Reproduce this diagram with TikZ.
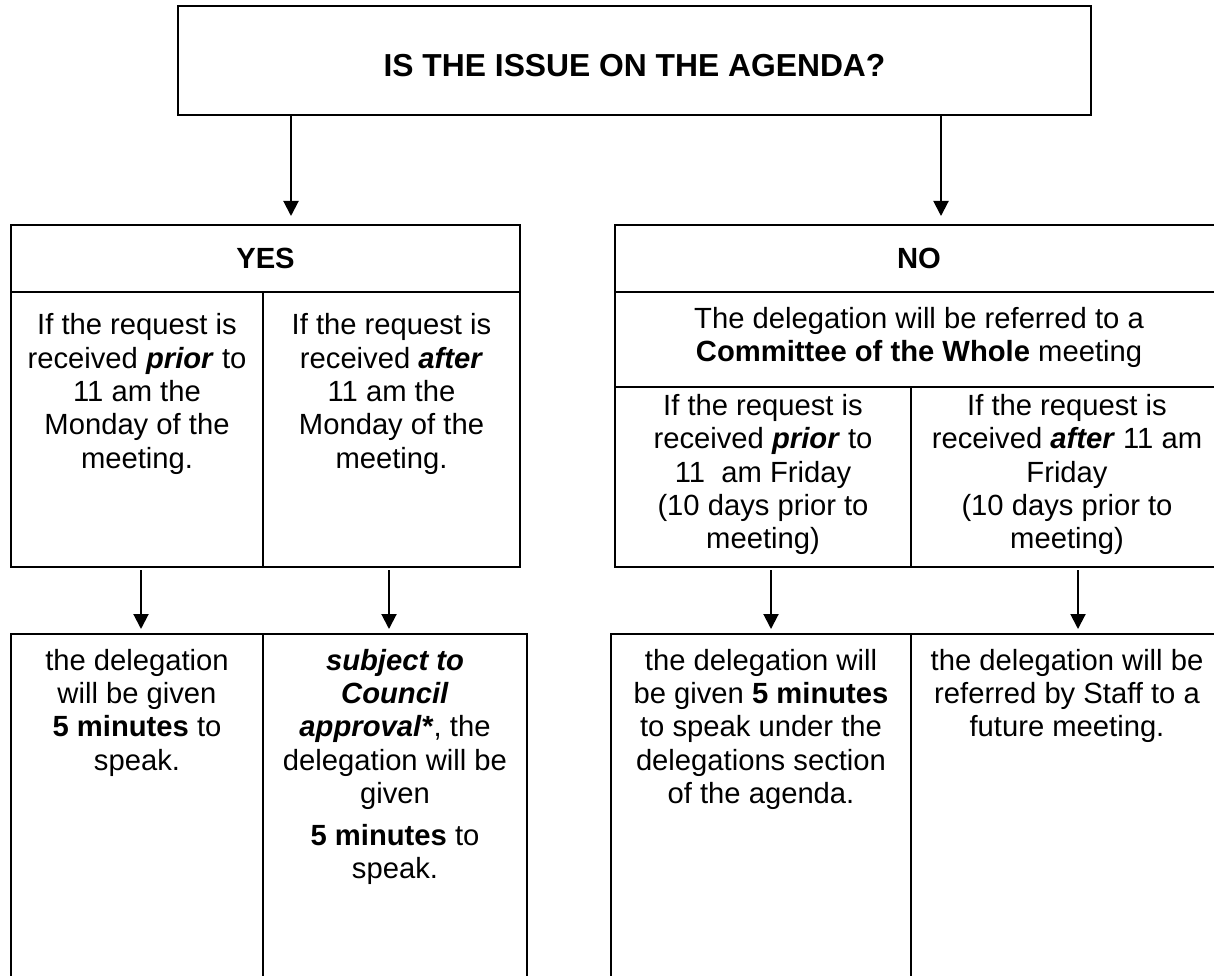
\documentclass[tikz,border=0pt]{standalone}
\usepackage{fontspec}
\setmainfont{Liberation Sans}
\usetikzlibrary{arrows.meta}
\newcommand{\cbox}[4]{\parbox[c][#2pt][t]{#1pt}{\centering\rule{0pt}{#3pt}#4\par}}
\newcommand{\bi}[1]{\textbf{\textit{#1}}}
\begin{document}
\begin{tikzpicture}[x=1pt,y=-1pt,
  cell/.style={draw, line width=2pt, rectangle, inner sep=0pt, outer sep=0pt,
    anchor=north west, font=\fontsize{29.2}{33.4}\selectfont},
  arr/.style={line width=2pt, -{Triangle[length=15pt,width=15pt]}}]
\useasboundingbox (0,0) rectangle (1214,976);
\fill[white] (0,0) rectangle (1214,976);
\clip (0,0) rectangle (1214,976);

\node[cell] (q) at (178,6) {\cbox{913}{109}{71}{\fontsize{31.8}{35}\selectfont\bfseries IS THE ISSUE ON THE AGENDA?}};

\node[cell] (yh) at (11,225) {\cbox{509}{66.7}{43}{\textbf{YES}}};
\node[cell] (ycl) at (11,291.7) {\cbox{252}{275.3}{43}{If the request is\\ received \bi{prior} to\\ 11 am the\\ Monday of the\\ meeting.}};
\node[cell] (ycr) at (263,291.7) {\cbox{257}{275.3}{43}{If the request is\\ received \bi{after}\\ 11 am the\\ Monday of the\\ meeting.}};

\node[cell] (nh) at (615,225) {\cbox{608}{66.7}{43}{\textbf{NO}}};
\node[cell] (nc) at (615,291.7) {\cbox{608}{95.6}{36.5}{The delegation will be referred to a\\ \textbf{Committee of the Whole} meeting}};
\node[cell] (ncl) at (615,387.3) {\cbox{296}{179.7}{28}{If the request is\\ received \bi{prior} to\\ 11~~am Friday\\ (10 days prior to\\ meeting)}};
\node[cell] (ncr) at (911,387.3) {\cbox{312}{179.7}{28}{If the request is\\ received \bi{after} 11 am\\ Friday\\ (10 days prior to\\ meeting)}};

\node[cell] (yrl) at (11,634) {\cbox{252}{400}{36}{the delegation\\ will be given\\ \textbf{5 minutes} to\\ speak.}};
\node[cell] (yrr) at (263,634) {\cbox{264}{400}{36}{\bi{subject to}\\ \bi{Council}\\ \bi{approval*}, the\\ delegation will be\\ given\\[8.4pt] \textbf{5 minutes} to\\ speak.}};
\node[cell] (nrl) at (611,634) {\cbox{300}{400}{36}{the delegation will\\ be given \textbf{5 minutes}\\ to speak under the\\ delegations section\\ of the agenda.}};
\node[cell] (nrr) at (911,634) {\cbox{312}{400}{36}{the delegation will be\\ referred by Staff to a\\ future meeting.}};

\coordinate (a1) at (291,0);
\coordinate (a2) at (941,0);
\coordinate (a3) at (141,0);
\coordinate (a4) at (389,0);
\coordinate (a5) at (771,0);
\coordinate (a6) at (1078,0);

\draw[arr, shorten >=9pt] (q.south -| a1) -- (yh.north -| a1);
\draw[arr, shorten >=9pt] (q.south -| a2) -- (nh.north -| a2);
\draw[arr, shorten <=3pt, shorten >=5pt] (ycl.south -| a3) -- (yrl.north -| a3);
\draw[arr, shorten <=3pt, shorten >=5pt] (ycr.south -| a4) -- (yrr.north -| a4);
\draw[arr, shorten <=3pt, shorten >=5pt] (ncl.south -| a5) -- (nrl.north -| a5);
\draw[arr, shorten <=3pt, shorten >=5pt] (ncr.south -| a6) -- (nrr.north -| a6);
\end{tikzpicture}
\end{document}
